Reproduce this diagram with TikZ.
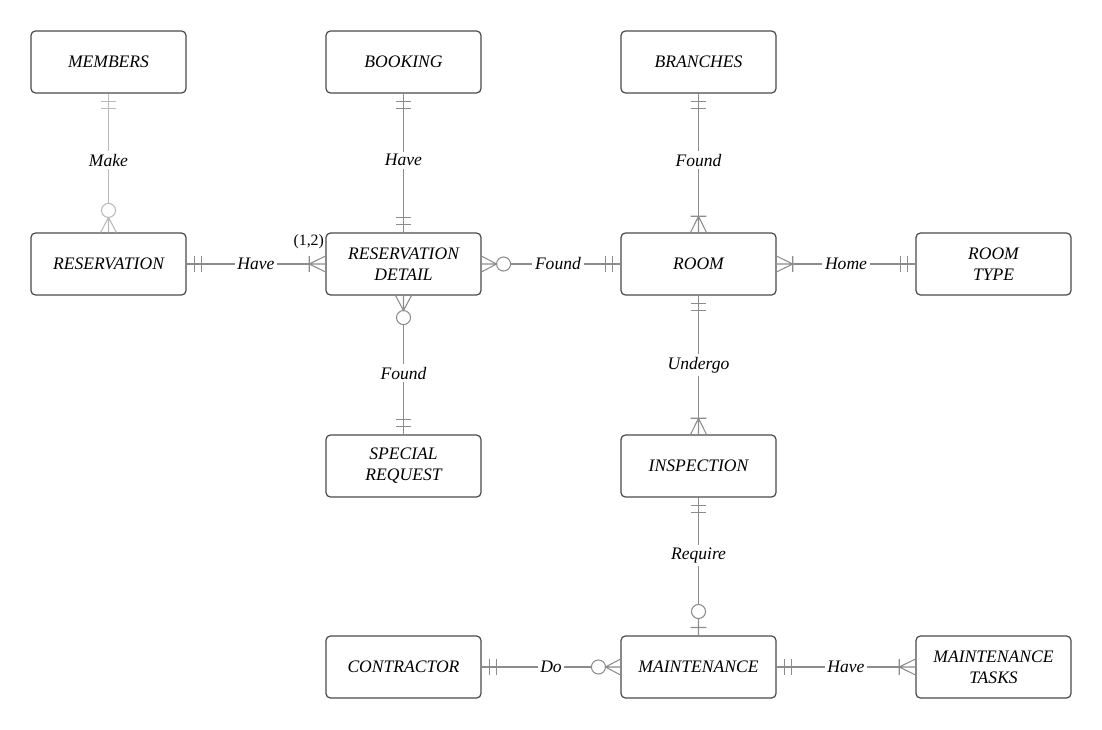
\documentclass[tikz,border=0pt]{standalone}
\usepackage{fontspec}
\setmainfont{Liberation Serif}

% crow's foot ends, tip at the entity border
\pgfdeclarearrow{
  name = mandone,
  setup code = {
    \pgfarrowssettipend{0pt}
    \pgfarrowssetlineend{-8.5pt}
    \pgfarrowssetbackend{-8.5pt}
    \pgfarrowssetvisualbackend{-8.5pt}
  },
  drawing code = {
    \pgfpathmoveto{\pgfqpoint{-8.5pt}{0pt}}
    \pgfpathlineto{\pgfqpoint{0pt}{0pt}}
    \pgfpathmoveto{\pgfqpoint{-8.5pt}{4.5pt}}
    \pgfpathlineto{\pgfqpoint{-8.5pt}{-4.5pt}}
    \pgfpathmoveto{\pgfqpoint{-4.5pt}{4.5pt}}
    \pgfpathlineto{\pgfqpoint{-4.5pt}{-4.5pt}}
    \pgfusepathqstroke
  }
}
\pgfdeclarearrow{
  name = onemany,
  setup code = {
    \pgfarrowssettipend{0pt}
    \pgfarrowssetlineend{-9.2pt}
    \pgfarrowssetbackend{-9.2pt}
    \pgfarrowssetvisualbackend{-9.2pt}
  },
  drawing code = {
    \pgfpathmoveto{\pgfqpoint{-9.2pt}{0pt}}
    \pgfpathlineto{\pgfqpoint{0pt}{0pt}}
    \pgfpathmoveto{\pgfqpoint{0pt}{4.5pt}}
    \pgfpathlineto{\pgfqpoint{-9.2pt}{0pt}}
    \pgfpathlineto{\pgfqpoint{0pt}{-4.5pt}}
    \pgfpathmoveto{\pgfqpoint{-9.2pt}{4.5pt}}
    \pgfpathlineto{\pgfqpoint{-9.2pt}{-4.5pt}}
    \pgfusepathqstroke
  }
}
\pgfdeclarearrow{
  name = zeromany,
  setup code = {
    \pgfarrowssettipend{0pt}
    \pgfarrowssetlineend{-16.5pt}
    \pgfarrowssetbackend{-16.5pt}
    \pgfarrowssetvisualbackend{-16.5pt}
  },
  drawing code = {
    \pgfpathmoveto{\pgfqpoint{-8.5pt}{0pt}}
    \pgfpathlineto{\pgfqpoint{0pt}{0pt}}
    \pgfpathmoveto{\pgfqpoint{0pt}{4.5pt}}
    \pgfpathlineto{\pgfqpoint{-8.5pt}{0pt}}
    \pgfpathlineto{\pgfqpoint{0pt}{-4.5pt}}
    \pgfpathcircle{\pgfqpoint{-12.5pt}{0pt}}{4pt}
    \pgfusepathqstroke
  }
}
\pgfdeclarearrow{
  name = zeroone,
  setup code = {
    \pgfarrowssettipend{0pt}
    \pgfarrowssetlineend{-17.6pt}
    \pgfarrowssetbackend{-17.6pt}
    \pgfarrowssetvisualbackend{-17.6pt}
  },
  drawing code = {
    \pgfpathmoveto{\pgfqpoint{-9.6pt}{0pt}}
    \pgfpathlineto{\pgfqpoint{0pt}{0pt}}
    \pgfpathmoveto{\pgfqpoint{-4.5pt}{4.5pt}}
    \pgfpathlineto{\pgfqpoint{-4.5pt}{-4.5pt}}
    \pgfpathcircle{\pgfqpoint{-13.6pt}{0pt}}{4pt}
    \pgfusepathqstroke
  }
}

\definecolor{boxgray}{HTML}{4A4A4A}
\definecolor{linkgray}{HTML}{8C8C8C}

\begin{document}
\begin{tikzpicture}[x=0.02cm, y=-0.02cm,
    entity/.style={draw=boxgray, line width=0.7pt, rounded corners=2.5pt, minimum width=3.1cm, minimum height=1.24cm, align=center, font=\itshape},
    link/.style={draw=linkgray, line width=0.6pt},
    rel/.style={midway, fill=white, inner sep=1.5pt, font=\itshape}]
    \useasboundingbox (0,0) rectangle (1102,730);

    \node[entity] (members) at (108.5,62) {MEMBERS};
    \node[entity] (booking) at (403.5,62) {BOOKING};
    \node[entity] (branches) at (698.5,62) {BRANCHES};

    \node[entity] (reservation) at (108.5,264) {RESERVATION};
    \node[entity] (resdetail) at (403.5,264) {RESERVATION\\DETAIL};
    \node[entity] (room) at (698.5,264) {ROOM};
    \node[entity] (roomtype) at (993.5,264) {ROOM\\TYPE};

    \node[entity] (request) at (403.5,466) {SPECIAL\\REQUEST};
    \node[entity] (inspection) at (698.5,466) {INSPECTION};

    \node[entity] (contractor) at (403.5,667) {CONTRACTOR};
    \node[entity] (maintenance) at (698.5,667) {MAINTENANCE};
    \node[entity] (tasks) at (993.5,667) {MAINTENANCE\\TASKS};

    \node[anchor=east, inner sep=1pt, font=\small] (card) at (326,242) {(1,2)};

    \draw[link, draw=linkgray!60, mandone-zeromany] (members) -- (reservation) node[rel, pos=0.48] {Make};
    \draw[link, mandone-mandone] (booking) -- (resdetail) node[rel, pos=0.48] {Have};
    \draw[link, mandone-onemany] (branches) -- (room) node[rel, pos=0.48] {Found};

    \draw[link, mandone-onemany] (reservation) -- (resdetail) node[rel] {Have};
    \draw[link, zeromany-mandone] (resdetail) -- (room) node[rel, pos=0.55] {Found};
    \draw[link, onemany-mandone] (room) -- (roomtype) node[rel] {Home};

    \draw[link, zeromany-mandone] (resdetail) -- (request) node[rel, pos=0.56] {Found};
    \draw[link, mandone-onemany] (room) -- (inspection) node[rel] {Undergo};
    \draw[link, mandone-zeroone] (inspection) -- (maintenance) node[rel, pos=0.42] {Require};

    \draw[link, mandone-zeromany] (contractor) -- (maintenance) node[rel] {Do};
    \draw[link, mandone-onemany] (maintenance) -- (tasks) node[rel] {Have};
\end{tikzpicture}
\end{document}
